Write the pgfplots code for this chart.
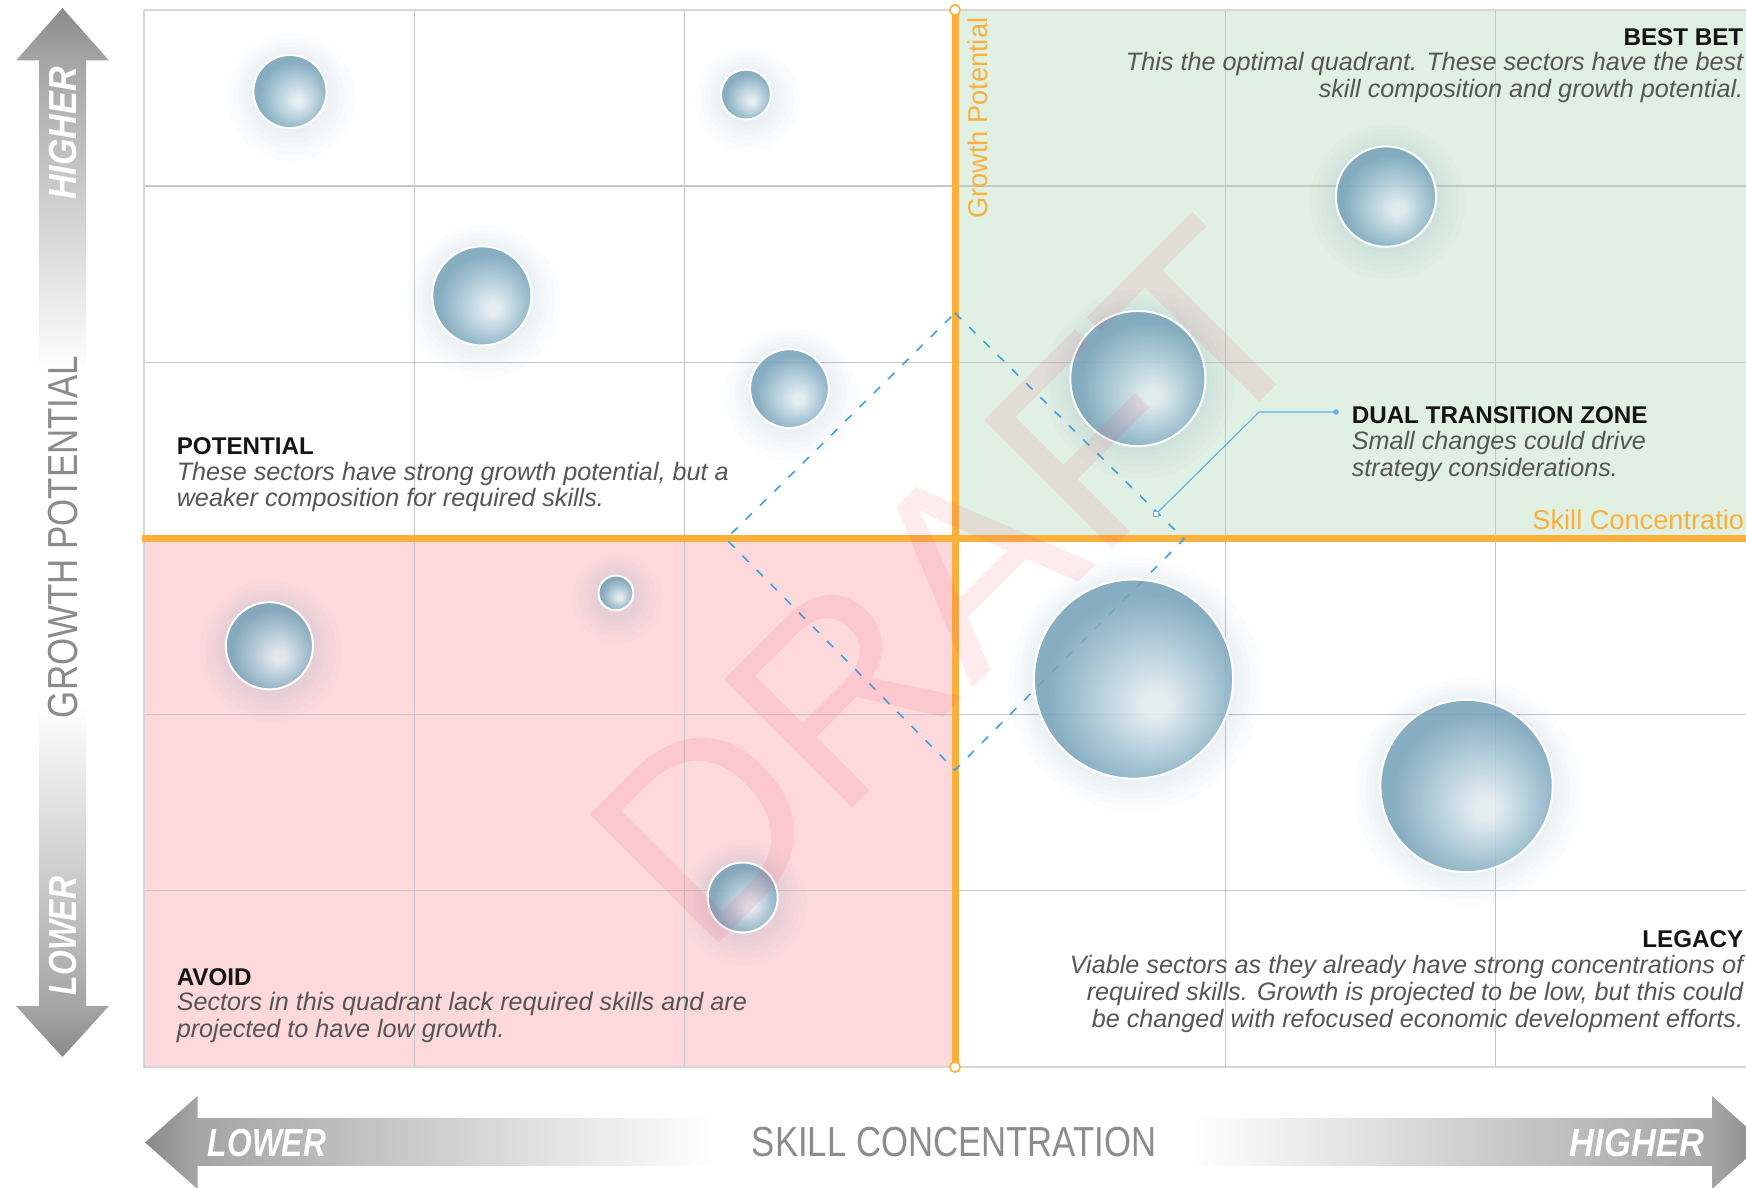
\documentclass[border=0pt]{standalone}
\usepackage{pgfplots}
\pgfplotsset{compat=1.18}
\usepackage{pgfplotstable}
\usepackage{fontspec}
\setmainfont{Liberation Sans}
\usepackage{graphicx}

\definecolor{qgreen}{RGB}{224,240,226}
\definecolor{qpink}{RGB}{253,217,220}
\definecolor{gridc}{RGB}{198,198,198}
\definecolor{borderc}{RGB}{214,214,214}
\definecolor{orng}{RGB}{251,176,59}
\definecolor{txtgray}{RGB}{85,85,85}
\definecolor{headc}{RGB}{20,20,20}
\definecolor{labgray}{RGB}{140,140,140}
\definecolor{arrdark}{RGB}{138,138,138}
\definecolor{arrmid}{RGB}{165,165,165}
\definecolor{dashblue}{RGB}{64,160,230}
\definecolor{callblue}{RGB}{100,180,235}
\definecolor{draftc}{RGB}{240,60,90}
\definecolor{bubout}{RGB}{118,162,184}
\definecolor{bubmid}{RGB}{165,197,212}
\definecolor{bubhi}{RGB}{228,237,241}
\definecolor{bubglow}{RGB}{140,172,195}

\pgfdeclareradialshading{bubble}{\pgfpoint{6bp}{-7bp}}{color(0bp)=(bubhi); color(3bp)=(bubhi); color(15bp)=(bubmid); color(25bp)=(bubout); color(50bp)=(bubout)}

\newdimen\bubR
\pgfdeclareplotmark{bubble}{%
  \pgfsetfillcolor{bubglow}%
  \pgfsetfillopacity{0.03}%
  \pgfmathsetlength{\bubR}{\rad pt+7pt}\pgfpathcircle{\pgfpoint{0.4pt}{-1.4pt}}{\bubR}\pgfusepath{fill}%
  \pgfmathsetlength{\bubR}{\rad pt+5.5pt}\pgfpathcircle{\pgfpoint{0.35pt}{-1.2pt}}{\bubR}\pgfusepath{fill}%
  \pgfmathsetlength{\bubR}{\rad pt+4.2pt}\pgfpathcircle{\pgfpoint{0.3pt}{-1pt}}{\bubR}\pgfusepath{fill}%
  \pgfmathsetlength{\bubR}{\rad pt+3pt}\pgfpathcircle{\pgfpoint{0.2pt}{-0.8pt}}{\bubR}\pgfusepath{fill}%
  \pgfmathsetlength{\bubR}{\rad pt+2pt}\pgfpathcircle{\pgfpoint{0.15pt}{-0.6pt}}{\bubR}\pgfusepath{fill}%
  \pgfmathsetlength{\bubR}{\rad pt+1.1pt}\pgfpathcircle{\pgfpoint{0.1pt}{-0.4pt}}{\bubR}\pgfusepath{fill}%
  \pgfsetfillopacity{0.86}%
  \pgfmathsetlength{\bubR}{\rad pt}\pgfpathcircle{\pgfpointorigin}{\bubR}\pgfshadepath{bubble}{0}\pgfusepath{discard}%
  \pgfsetfillopacity{1}%
  \pgfsetstrokecolor{white}%
  \pgfsetlinewidth{0.5pt}%
  \pgfmathsetlength{\bubR}{\rad pt+0.15pt}\pgfpathcircle{\pgfpointorigin}{\bubR}\pgfusepath{stroke}%
}

\pgfplotstableread{
x y r
0.540 5.537 9.0
2.227 5.520 6.1
1.250 4.377 12.25
2.388 3.851 9.7
3.677 3.908 16.75
4.595 4.941 12.4
1.746 2.691 4.2
0.464 2.391 10.75
3.661 2.202 24.75
4.893 1.595 21.4
2.215 0.962 8.6
}\bubbles

\tikzset{
  qh/.style={inner sep=0, text=headc, font=\bfseries\fontsize{6.05pt}{6.6pt}\selectfont},
  qt/.style={inner sep=0, text=txtgray, font=\itshape\fontsize{6.3pt}{6.6pt}\selectfont},
  px/.style={shift={(-36pt,266.75pt)}, x=0.25pt, y=-0.25pt}
}

\begin{document}
\begin{tikzpicture}
\begin{scope}[px]
  % quadrant fills
  \fill[qgreen] (955,10) rectangle (1770,539);
  \fill[qpink] (144,539) rectangle (955,1067);
  % grid
  \foreach \gx in {414.3,684.6,1225.2,1495.5}
    \draw[gridc, line width=0.35pt] (\gx,10) -- (\gx,1067);
  \foreach \gy in {186.2,362.3,714.7,890.8}
    \draw[gridc, line width=0.35pt] (144,\gy) -- (1770,\gy);
  \draw[borderc, line width=0.6pt] (1770,10) -- (144,10) -- (144,1067) -- (1770,1067);
  % orange axes
  \draw[orng, line width=1.75pt] (142,539) -- (1770,539);
  \draw[orng, line width=1.75pt] (955,10) -- (955,1067);
  \draw[orng, fill=white, line width=0.4pt] (955,10) circle[radius=1.3pt];
  \draw[orng, fill=white, line width=0.4pt] (955,1067) circle[radius=1.3pt];
  % dashed diamond
  \draw[dashblue, line width=0.4pt, dash pattern=on 2.2pt off 2.8pt] (955,313) -- (1184,539) -- (955,770) -- (726,539) -- cycle;
  % callout
  \draw[callblue, line width=0.3pt] (1336,412) -- (1259,412) -- (1156,514);
  \fill[callblue] (1336,412) circle[radius=0.7pt];
  \draw[callblue, line width=0.25pt, fill=white] (1153.5,511.5) rectangle (1158.5,516.5);
  % arrows: vertical
  \shade[top color=arrdark, bottom color=arrmid] (62.5,8) -- (109,60.5) -- (16,60.5) -- cycle;
  \shade[top color=arrmid, bottom color=white] (39,60) rectangle (86,372);
  \shade[top color=white, bottom color=arrmid] (39,705) rectangle (86,1006.5);
  \shade[top color=arrmid, bottom color=arrdark] (16,1006) -- (109,1006) -- (62.5,1057) -- cycle;
  % arrows: horizontal
  \shade[left color=arrdark, right color=arrmid] (145,1142.5) -- (197.5,1096) -- (197.5,1189) -- cycle;
  \shade[left color=arrmid, right color=white] (197,1119) rectangle (715,1166);
  \shade[left color=white, right color=arrmid] (1190,1119) rectangle (1712.5,1166);
  \shade[left color=arrmid, right color=arrdark] (1712,1096) -- (1764,1142.5) -- (1712,1189) -- cycle;
  % arrow texts
  \node[rotate=90, text=white, inner sep=0, font=\bfseries\itshape\fontsize{9.8pt}{10pt}\selectfont] at (63,133.5) {\scalebox{0.87}[1]{HIGHER}};
  \node[rotate=90, text=white, inner sep=0, font=\bfseries\itshape\fontsize{9.8pt}{10pt}\selectfont] at (63,936) {\scalebox{0.81}[1]{LOWER}};
  \node[text=white, inner sep=0, font=\bfseries\itshape\fontsize{9.8pt}{10pt}\selectfont] at (267,1143) {\scalebox{0.81}[1]{LOWER}};
  \node[text=white, inner sep=0, font=\bfseries\itshape\fontsize{9.8pt}{10pt}\selectfont] at (1637,1143) {\scalebox{0.88}[1]{HIGHER}};
  % axis titles
  \node[rotate=90, text=labgray, inner sep=0, font=\fontsize{10.5pt}{11pt}\selectfont] at (63,537) {\scalebox{0.83}[1]{GROWTH POTENTIAL}};
  \node[text=labgray, inner sep=0, font=\fontsize{10.5pt}{11pt}\selectfont] at (954,1142.5) {\scalebox{0.826}[1]{SKILL CONCENTRATION}};
  % orange labels
  \node[rotate=90, anchor=base east, text=orng, inner sep=0, font=\fontsize{6.8pt}{7pt}\selectfont] at (987,17) {Growth Potential};
  \node[anchor=base east, text=orng, inner sep=0, font=\fontsize{6.8pt}{7pt}\selectfont] at (1760,530) {Skill Concentration};
  % quadrant texts
  \node[qh, anchor=base west] at (176,454.5) {POTENTIAL};
  \node[qt, anchor=base west] at (176,481) {These sectors have strong growth potential, but a};
  \node[qt, anchor=base west] at (176,507) {weaker composition for required skills.};
  \node[qh, anchor=base west] at (176,985.5) {AVOID};
  \node[qt, anchor=base west] at (176,1011) {Sectors in this quadrant lack required skills and are};
  \node[qt, anchor=base west] at (176,1037.5) {projected to have low growth.};
  \node[qh, anchor=base east] at (1744,45.5) {BEST BET};
  \node[qt, anchor=base east] at (1744,71) {This the optimal quadrant. These sectors have the best};
  \node[qt, anchor=base east] at (1744,97.5) {skill composition and growth potential.};
  \node[qh, anchor=base east] at (1744,947.5) {LEGACY};
  \node[qt, anchor=base east] at (1744,974) {Viable sectors as they already have strong concentrations of};
  \node[qt, anchor=base east] at (1744,1001) {required skills. Growth is projected to be low, but this could};
  \node[qt, anchor=base east] at (1744,1028) {be changed with refocused economic development efforts.};
  \node[qh, anchor=base west] at (1351,424) {DUAL TRANSITION ZONE};
  \node[qt, anchor=base west] at (1351,450) {Small changes could drive};
  \node[qt, anchor=base west] at (1351,477) {strategy considerations.};
\end{scope}

\begin{axis}[at={(0,0)}, anchor=south west, scale only axis,
  width=405.45pt, height=264.25pt,
  xmin=0, xmax=6, ymin=0, ymax=6, hide axis, clip=false]
  \addplot[scatter, only marks, mark=bubble,
    visualization depends on={\thisrow{r} \as \rad}]
    table[x=x, y=y] {\bubbles};
\end{axis}

\begin{scope}[px]
  \node[rotate=45, text=draftc, text opacity=0.1, inner sep=0, font=\fontsize{66pt}{66pt}\selectfont] at (950,583) {DRAFT};
\end{scope}

\pgfresetboundingbox
\path[use as bounding box] (-36pt,-30.25pt) rectangle (400.5pt,266.75pt);
\end{tikzpicture}
\end{document}
